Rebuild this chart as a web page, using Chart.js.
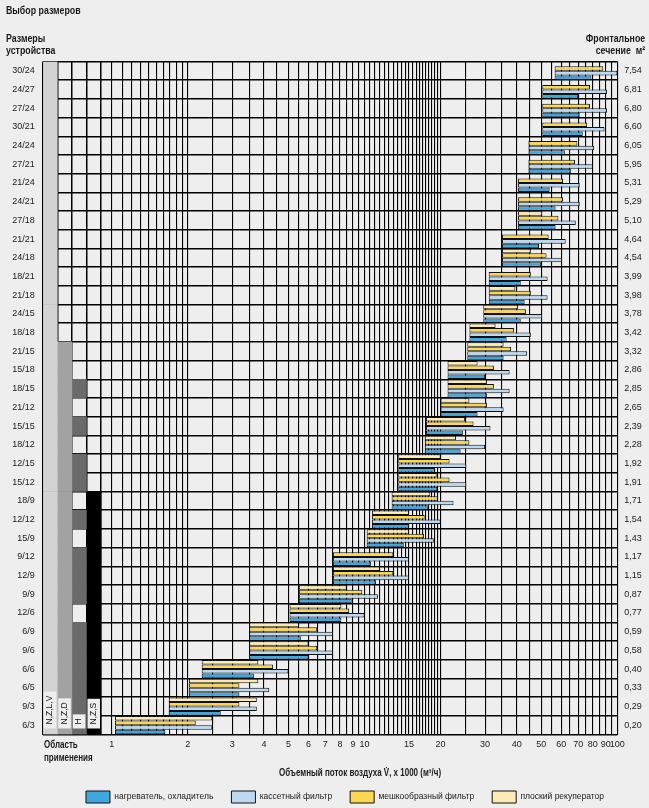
<!DOCTYPE html>
<html>
<head>
<meta charset="utf-8">
<title>Выбор размеров</title>
<script src="https://cdn.jsdelivr.net/npm/chart.js@4.4.0/dist/chart.umd.min.js"></script>
<style>
  html, body { margin: 0; padding: 0; background: #eeeeee; overflow: hidden; }
  #wrap {
    position: relative; width: 649px; height: 808px;
    font-family: "Liberation Sans", Arial, sans-serif;
    color: #1a1a1a;
  }
  #wrap canvas { position: absolute; left: 0; top: 0; }
  .lbl {
    position: absolute; font-weight: bold; font-size: 11px; line-height: 12px; white-space: nowrap;
    transform: scaleX(0.8); transform-origin: left top;
  }
  .lbl.r { transform-origin: right top; text-align: right; }
</style>
</head>
<body>
<div id="wrap">
  <canvas id="chart" width="649" height="808"></canvas>
  <div class="lbl" style="left:6px;top:4px">Выбор размеров</div>
  <div class="lbl" style="left:6px;top:32px">Размеры<br>устройства</div>
  <div class="lbl r" style="right:4px;top:32px">Фронтальное<br>сечение&nbsp;&nbsp;м²</div>
  <div class="lbl" style="left:44px;top:738px;font-size:10px;line-height:13px">Область<br>применения</div>
  <div class="lbl" style="left:279px;top:767px;font-size:10px">Объемный поток воздуха V̇, x 1000 (м³/ч)</div>
</div>
<script>
const FONT = '"Liberation Sans", Arial, sans-serif';

// unit sizes, top to bottom, and their front section (m²)
const sizes = ['30/24','24/27','27/24','30/21','24/24','27/21','21/24','24/21','27/18','21/21',
  '24/18','18/21','21/18','24/15','18/18','21/15','15/18','18/15','21/12','15/15',
  '18/12','12/15','15/12','18/9','12/12','15/9','9/12','12/9','9/9','12/6',
  '6/9','9/6','6/6','6/5','9/3','6/3'];
const frontArea = ['7,54','6,81','6,80','6,60','6,05','5,95','5,31','5,29','5,10','4,64',
  '4,54','3,99','3,98','3,78','3,42','3,32','2,86','2,85','2,65','2,39',
  '2,28','1,92','1,91','1,71','1,54','1,43','1,17','1,15','0,87','0,77',
  '0,59','0,58','0,40','0,33','0,29','0,20'];

// air flow x 1000 m³/h: common start of each row, then end per component
const flowStart = [56.5, 50.5, 50.5, 50.5, 44.5, 44.5, 40.5, 40.5, 40.5, 35,
  35, 31, 31, 29.5, 26, 25.5, 21.3, 21.3, 20, 17.5,
  17.3, 13.6, 13.6, 12.8, 10.7, 10.2, 7.5, 7.5, 5.5, 5.05,
  3.5, 3.5, 2.27, 2.02, 1.68, 1.03];
const recupEnd = [null, null, null, null, null, null, null, null, 50.5, null,
  45.5, null, 39.5, 40.5, 33, 35.5, 28, 30.5, 26, 25,
  23, 20, 19.3, 18.2, 15, 15, null, 11.5, 8.5, 8.1,
  5.5, 6, 3.8, 3.8, 3.75, 2.5];
const bagEnd = [88, 78, 78, 76, 69.5, 68, 61, 61, 58.5, 53.5,
  52.5, 45.5, 45.5, 43.5, 39, 38, 32.5, 32.5, 30.5, 27,
  26, 21.7, 21.7, 19.5, 17.3, 17.2, 13, 13, 9.8, 8.7,
  6.5, 6.5, 4.35, 3.2, 3.2, 2.15];
const cassetteEnd = [100, 91, 91, 89, 81, 80, 71, 71, 68.5, 62.5,
  60.5, 53, 53, 50.5, 45.5, 44, 37.5, 37.5, 35.5, 31.5,
  30, 25.3, 25.3, 22.5, 20, 18.8, 15, 15, 11.3, 10,
  7.5, 7.5, 5, 4.2, 3.75, 2.5];
const heaterEnd = [79, 70, 71, 73, 62, 65.5, 54, 57, 57, 49,
  50, 41.5, 43, 41.5, 36.5, 35.5, 30, 30.5, 28, 24.5,
  24, 19, 19.4, 17.8, 15, 14.3, 10.6, 11.1, 8.9, 8.1,
  5.6, 6, 3.65, 3.2, 2.7, 1.63];

// application area columns and the sizes each one covers
const appColumns = ['N,Z,L,V', 'N,Z,D', 'H', 'N,Z,S'];
const appNZLV = sizes.slice();
const appNZD = sizes.slice(15);
const appH = ['18/15','15/15','12/15','15/12','12/12','9/12','12/9','9/9','6/9','9/6','6/6','6/5','9/3','6/3'];
const appNZS = sizes.slice(23);
const appColors = ['#d3d3d3', '#a2a2a2', '#6a6a6a', '#000000'];

// x axis labels and grid steps
const xLabels = [1, 2, 3, 4, 5, 6, 7, 8, 9, 10, 15, 20, 30, 40, 50, 60, 70, 80, 90, 100];
function steps(from, to, step) {
  const out = [];
  for (let v = from; v < to - 1e-9; v += step) out.push(Math.round(v * 100) / 100);
  return out;
}
const xGrid = [].concat(steps(1, 2, 0.1), steps(2, 10, 0.5), steps(10, 20, 0.5), steps(20, 100, 5), [100]);

function range(ends) {
  return flowStart.map((s, i) => ends[i] == null ? null : [s, ends[i]]);
}

const series = [
  { label: 'плоский рекуператор', data: range(recupEnd), backgroundColor: '#fdebb7' },
  { label: 'мешкообразный фильтр', data: range(bagEnd), backgroundColor: '#fcd752' },
  { label: 'кассетный фильтр', data: range(cassetteEnd), backgroundColor: '#bcd9f1' },
  { label: 'нагреватель, охладитель', data: range(heaterEnd), backgroundColor: '#3fa7df' }
].map(d => Object.assign(d, {
  xAxisID: 'x', yAxisID: 'y',
  borderColor: '#111', borderWidth: 1, borderSkipped: false,
  categoryPercentage: 0.97, barPercentage: 1
}));

const appSets = [appNZLV, appNZD, appH, appNZS].map((list, c) => ({
  label: appColumns[c],
  data: sizes.map(s => list.includes(s) ? [c, c + 1] : null),
  backgroundColor: appColors[c],
  borderWidth: 0,
  xAxisID: 'x2', yAxisID: 'y',
  grouped: false, categoryPercentage: 1, barPercentage: 1
}));

const appLabels = {
  id: 'appLabels',
  afterLayout(chart) {
    // legend centred under the flow area, as in the original sheet
    chart.legend.left = 41;
  },
  afterDraw(chart) {
    const { ctx, chartArea, scales } = chart;
    const x2 = scales.x2;
    ctx.font = '8.5px ' + FONT;
    appColumns.forEach((name, i) => {
      const left = x2.getPixelForValue(i);
      const right = x2.getPixelForValue(i + 1);
      const len = ctx.measureText(name).width + 8;
      const bottom = chartArea.bottom - 6;
      ctx.save();
      ctx.fillStyle = '#eeeeee';
      ctx.fillRect(left + 1, bottom - len, right - left - 2, len);
      ctx.translate((left + right) / 2, bottom - len / 2);
      ctx.rotate(-Math.PI / 2);
      ctx.fillStyle = '#111';
      ctx.textAlign = 'center';
      ctx.textBaseline = 'middle';
      ctx.fillText(name, 0, 0);
      ctx.restore();
    });
  }
};

Chart.defaults.font.family = FONT;
Chart.defaults.color = '#1a1a1a';

new Chart(document.getElementById('chart'), {
  type: 'bar',
  data: { labels: sizes, datasets: series.concat(appSets) },
  options: {
    indexAxis: 'y',
    responsive: false,
    animation: false,
    events: [],
    layout: { padding: { top: 61.5, left: 0, right: 0, bottom: -5 } },
    scales: {
      x: {
        type: 'logarithmic',
        position: 'bottom',
        min: 0.5334,
        max: 100,
        afterBuildTicks: s => { s.ticks = xGrid.map(v => ({ value: v })); },
        afterFit: s => { s.height = 38.5; },
        ticks: {
          autoSkip: false, maxRotation: 0, minRotation: 0, padding: 4.5,
          font: { size: 9 }, color: '#1a1a1a',
          callback: v => xLabels.includes(v) ? String(v) : ''
        },
        grid: { color: '#000', lineWidth: 1.1, drawTicks: false },
        border: { display: false }
      },
      x2: {
        type: 'linear',
        position: 'bottom',
        min: 0,
        max: 39.42,
        z: 1,
        afterBuildTicks: s => { s.ticks = [0, 1, 2, 3, 4].map(v => ({ value: v })); },
        afterFit: s => { s.height = 0; },
        ticks: { display: false },
        grid: { color: '#000', lineWidth: 1.5, drawTicks: false },
        border: { display: false }
      },
      y: {
        type: 'category',
        position: 'left',
        offset: true,
        z: 1,
        afterFit: s => { s.width = 42.7; },
        ticks: { padding: 8, font: { size: 9 }, color: '#1a1a1a' },
        grid: { offset: true, color: '#000', lineWidth: 1.5, drawTicks: false },
        border: { display: false }
      },
      y2: {
        type: 'category',
        labels: frontArea,
        position: 'right',
        offset: true,
        afterFit: s => { s.width = 31.7; },
        ticks: { padding: 7, font: { size: 9 }, color: '#1a1a1a' },
        grid: { display: false, drawTicks: false },
        border: { display: false }
      }
    },
    plugins: {
      title: { display: false },
      tooltip: { enabled: false },
      legend: {
        position: 'bottom',
        reverse: true,
        labels: {
          boxWidth: 24, boxHeight: 12, padding: 18,
          font: { size: 8.5 }, color: '#1a1a1a',
          filter: item => item.datasetIndex < 4
        }
      }
    }
  },
  plugins: [appLabels]
});
</script>
</body>
</html>
